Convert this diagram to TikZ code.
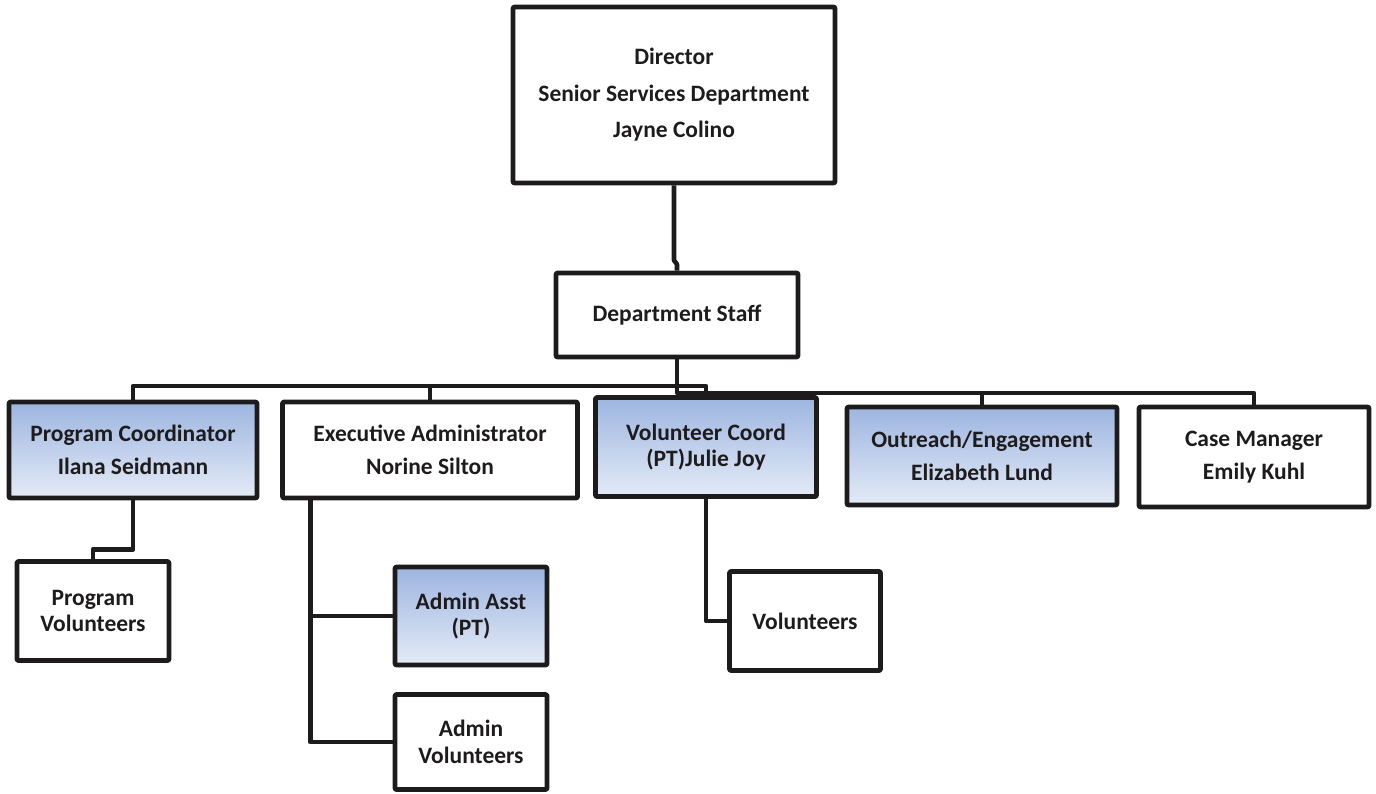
\documentclass[tikz,border=0pt]{standalone}
\usepackage{fontspec}
\setmainfont{Carlito}
\usepackage{xcolor}
\usepackage{tikz}
\definecolor{boxtop}{RGB}{157,181,224}
\definecolor{boxbottom}{RGB}{228,235,247}
\definecolor{ink}{RGB}{30,27,28}

\begin{document}
\begin{tikzpicture}[x=1pt, y=-1pt, line width=4.6pt, line join=round, draw=ink,
    box/.style={draw=ink, rectangle, rounded corners=1pt, align=center, text=ink, inner sep=0pt,
        font=\fontsize{23.5}{33}\selectfont\bfseries},
    roomy/.style={font=\fontsize{23.5}{36.5}\selectfont\bfseries},
    snug/.style={font=\fontsize{23.5}{26.5}\selectfont\bfseries},
    blue/.style={top color=boxtop, bottom color=boxbottom}]
    \useasboundingbox (0,0) rectangle (1376,793);

    % Top of the chart
    \node[box, roomy, minimum width=322pt, minimum height=176pt] (dir) at (674,95) {Director\\Senior Services Department\\Jayne Colino};
    \node[box, minimum width=242pt, minimum height=84pt] (dept) at (677,315) {Department Staff};

    % Row of leads
    \node[box, blue, minimum width=248pt, minimum height=96pt] (prog) at (133,450) {Program Coordinator\\Ilana Seidmann};
    \node[box, minimum width=295pt, minimum height=96pt] (exec) at (430,450) {Executive Administrator\\Norine Silton};
    \node[box, blue, snug, minimum width=221pt, minimum height=99pt] (volc) at (706,447) {Volunteer Coord\\(PT)Julie Joy};
    \node[box, blue, minimum width=270pt, minimum height=98pt] (outr) at (982,456) {Outreach/Engagement\\Elizabeth Lund};
    \node[box, minimum width=230pt, minimum height=100pt] (case) at (1254,457) {Case Manager\\Emily Kuhl};

    % Lower boxes
    \node[box, snug, minimum width=152pt, minimum height=99pt] (pvol) at (93,611) {Program\\Volunteers};
    \node[box, blue, snug, minimum width=152pt, minimum height=98pt] (asst) at (471,616) {Admin Asst\\(PT)};
    \node[box, snug, minimum width=152pt, minimum height=95pt] (avol) at (471,742) {Admin\\Volunteers};
    \node[box, minimum width=151pt, minimum height=99pt] (vols) at (805,621) {Volunteers};

    % Director down to staff
    \draw (dir.south) -- ++(0,75) -- ++(3,4) -- (dept.north);

    % Staff out to the leads
    \coordinate (hub) at (677,386);
    \coordinate (rbus) at (677,393);
    \draw (prog.north) |- (hub) -| (volc.north);
    \draw (exec.north) -- (exec.north |- hub);
    \draw (dept.south) -- (rbus) -| (case.north);
    \draw (outr.north) -- (outr.north |- rbus);

    % Leads down to their helpers
    \draw (prog.south) -- ++(0,49) -| (pvol.north);
    \coordinate (exdrop) at ([xshift=30pt]exec.south west);
    \draw (exdrop) |- (avol.west);
    \draw (exdrop |- asst.west) -- (asst.west);
    \draw (volc.south) |- (vols.west);
\end{tikzpicture}
\end{document}
